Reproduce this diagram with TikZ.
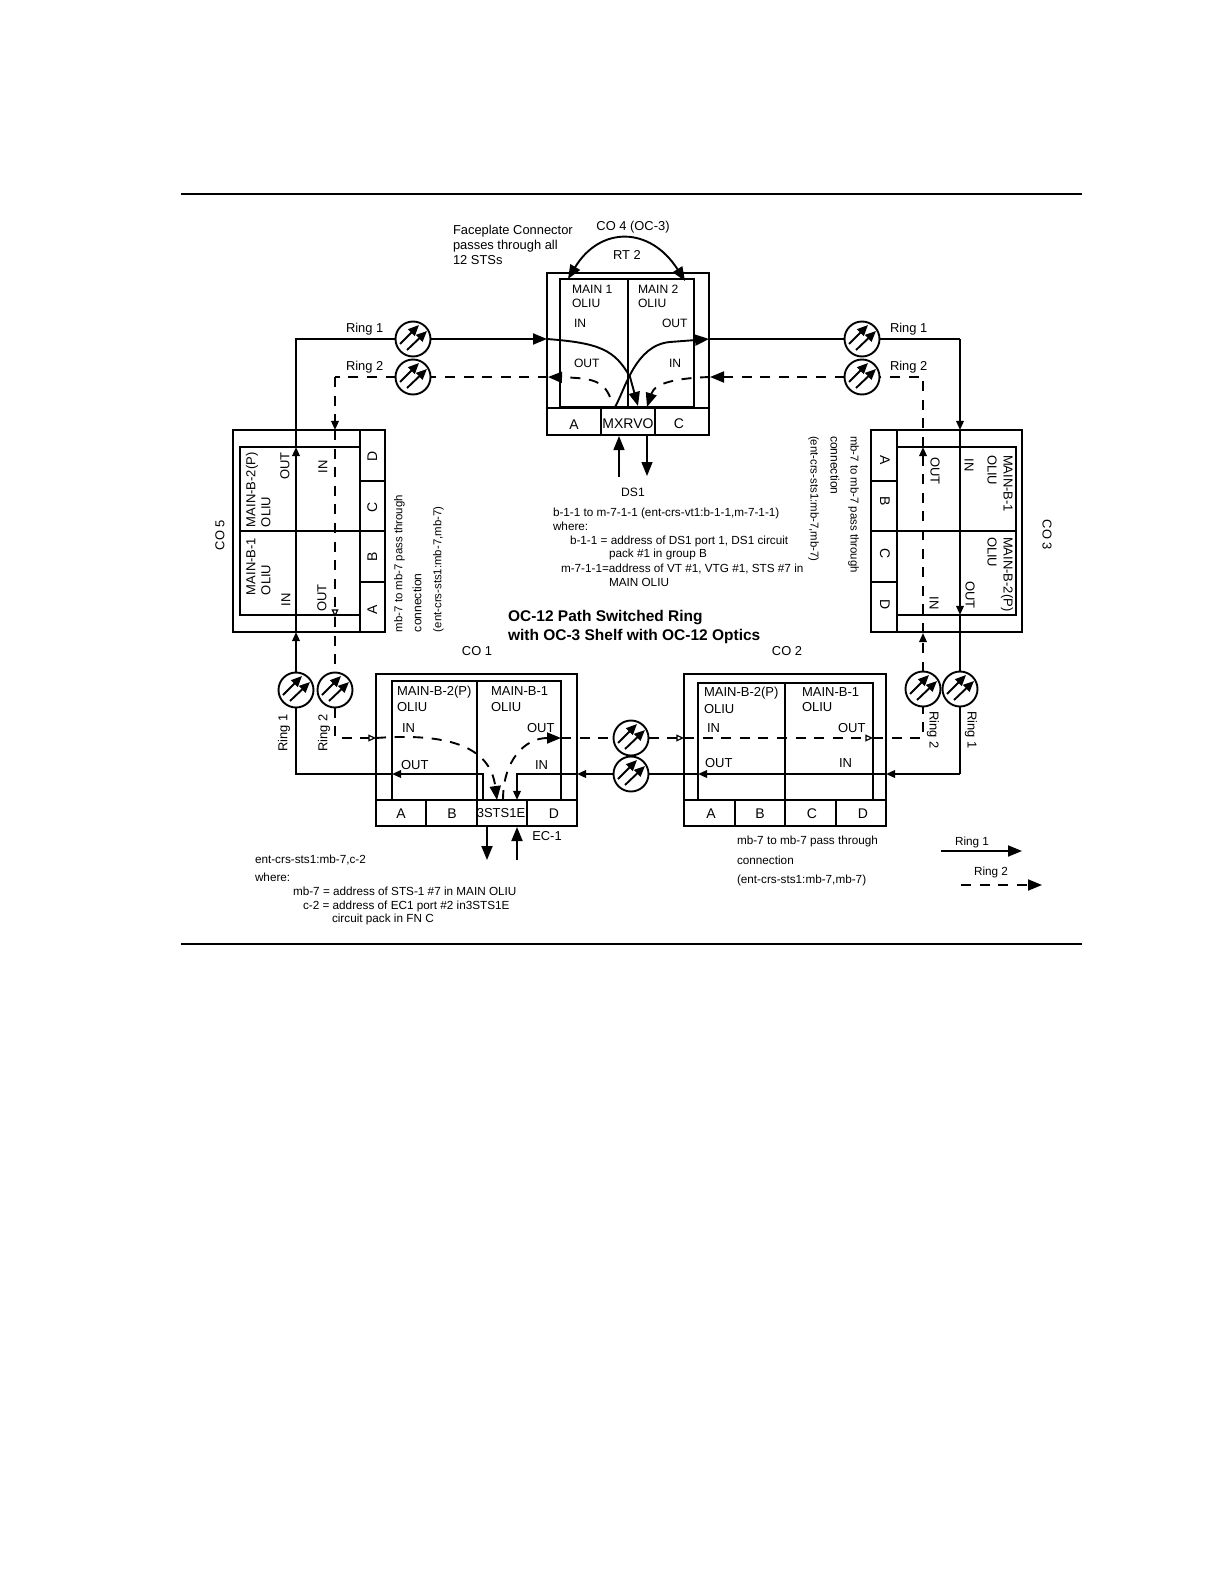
\documentclass[tikz,border=0pt]{standalone}
\usepackage{fontspec}
\setmainfont{Liberation Sans}
\usetikzlibrary{arrows.meta}
\newcounter{tn}
\newcommand\Tw[4][]{\stepcounter{tn}\node[lab,anchor=west,#1] (t\arabic{tn}) at (#2,#3) {#4};}
\newcommand\Tc[4][]{\stepcounter{tn}\node[lab,anchor=center,#1] (t\arabic{tn}) at (#2,#3) {#4};}
\newcommand\Bx[6][boxst]{%
  \pgfmathsetmacro\bw{(#5-#3)*0.5}\pgfmathsetmacro\bh{(#6-#4)*0.5}%
  \pgfmathsetmacro\bcx{(#5+#3)/2}\pgfmathsetmacro\bcy{(#6+#4)/2}%
  \node[#1,minimum width=\bw pt,minimum height=\bh pt] (#2) at (\bcx,\bcy) {};}
\tikzset{
  lab/.style={inner sep=0pt,outer sep=0pt,font=\fontsize{5.87}{7}\selectfont,text height=4.4pt,text depth=0pt},
  mid/.style={font=\fontsize{6.05}{7}\selectfont},
  capn/.style={font=\fontsize{6.45}{7}\selectfont},
  big/.style={font=\fontsize{6.5}{7}\selectfont},
  thinc/.style={font=\fontsize{5.7}{7}\selectfont},
  cell/.style={font=\fontsize{7}{8}\selectfont,text height=5pt},
  ttl/.style={font=\fontsize{7.75}{9}\bfseries\selectfont,text height=5.6pt},
  boxst/.style={draw,line width=1.05pt,inner sep=0pt,outer sep=0pt},
  wire/.style={line width=0.95pt},
  ringtwo/.style={line width=0.95pt,dash pattern=on 5pt off 4.3pt},
  bigtip/.style={-{Triangle[length=7pt,width=5.5pt]}},
  medtip/.style={-{Triangle[length=4.6pt,width=3.8pt]}},
  opentip/.style={-{Triangle[open,fill=white,length=3.8pt,width=3.4pt,line width=0.6pt]}},
  atten/.style={circle,draw,fill=white,line width=0.95pt,minimum size=17.5pt,inner sep=0pt,outer sep=0pt,
    path picture={
      \begin{scope}[shift={(path picture bounding box.center)}]
        \draw[line width=0.95pt,-{Triangle[length=5.4pt,width=4.6pt]}] (-13,5) -- (6,-14);
        \draw[line width=0.95pt,-{Triangle[length=5.4pt,width=4.6pt]}] (-6,11) -- (14,-8);
      \end{scope}}},
  rule/.style={line width=0.9pt}
}
\begin{document}
\begin{tikzpicture}[x=0.5pt,y=-0.5pt]
\useasboundingbox (0,0) rectangle (1224,1584);
\fill[white] (0,0) rectangle (1224,1584);
% page rules
\coordinate (rta) at (181,194); \coordinate (rtb) at (1082,194);
\coordinate (rba) at (181,944); \coordinate (rbb) at (1082,944);
\draw[rule] (rta) -- (rtb);
\draw[rule] (rba) -- (rbb);
% CO 4
\Bx{cofour}{547}{273}{709}{435}
\Bx{cofourm}{560}{279}{628}{407}
\Bx{cofourn}{628}{279}{694}{407}
\Bx{cofoura}{547}{408}{601}{435}
\Bx{cofourb}{601}{408}{655}{435}
\Bx{cofourc}{655}{408}{709}{435}
% CO 5
\Bx{cofive}{233}{430}{385}{632}
\Bx{cofivem}{240}{447}{360}{531}
\Bx{cofiven}{240}{531}{360}{615}
\Bx{cofived}{360}{430}{385}{481}
\Bx{cofivec}{360}{481}{385}{531}
\Bx{cofiveb}{360}{531}{385}{582}
\Bx{cofivea}{360}{582}{385}{632}
% CO 3
\Bx{cothree}{871}{430}{1022}{632}
\Bx{cothreem}{897}{447}{1016}{531}
\Bx{cothreen}{897}{531}{1016}{615}
\Bx{cothreea}{871}{430}{897}{481}
\Bx{cothreeb}{871}{481}{897}{531}
\Bx{cothreec}{871}{531}{897}{582}
\Bx{cothreed}{871}{582}{897}{632}
% CO 1
\Bx{coone}{376}{674}{577}{826}
\Bx{coonem}{392}{681}{477}{800}
\Bx{coonen}{477}{681}{561}{800}
\Bx{coonea}{376}{800}{426}{826}
\Bx{cooneb}{426}{800}{477}{826}
\Bx{coonec}{477}{800}{527}{826}
\Bx{cooned}{527}{800}{577}{826}
% CO 2
\Bx{cotwo}{684}{674}{886}{826}
\Bx{cotwom}{698}{683}{785}{800}
\Bx{cotwon}{785}{683}{873}{800}
\Bx{cotwoa}{684}{800}{735}{826}
\Bx{cotwob}{735}{800}{785}{826}
\Bx{cotwoc}{785}{800}{836}{826}
\Bx{cotwod}{836}{800}{886}{826}
% attenuators
\node[atten] (aa) at (413,339) {};
\node[atten] (ab) at (413,377) {};
\node[atten] (ac) at (862,339) {};
\node[atten] (ad) at (862,377) {};
\node[atten] (ae) at (296,690) {};
\node[atten] (af) at (335,690) {};
\node[atten] (ag) at (631,738) {};
\node[atten] (ah) at (631,774) {};
\node[atten] (ai) at (923,689) {};
\node[atten] (aj) at (960,689) {};
% junction coordinates
\coordinate (fli) at (547,339); \coordinate (flo) at (709,339);
\coordinate (dli) at (548,377); \coordinate (dri) at (710,377);
\coordinate (cnw) at (296,339); \coordinate (cne) at (960,339);
\coordinate (dnw) at (335,377); \coordinate (dne) at (923,377);
\coordinate (fvt) at (296,447); \coordinate (fvb) at (296,632);
\coordinate (gvt) at (335,430); \coordinate (gvb) at (335,617);
\coordinate (hvt) at (960,430); \coordinate (hvb) at (960,615);
\coordinate (ivt) at (923,447); \coordinate (ivb) at (923,633);
\coordinate (csw) at (296,774); \coordinate (cse) at (960,774);
\coordinate (dsw) at (335,738); \coordinate (dse) at (923,738);
\coordinate (oa) at (376,738); \coordinate (ob) at (561,738);
\coordinate (oc) at (684,738); \coordinate (od) at (873,738);
\coordinate (pa) at (392,774); \coordinate (pb) at (483,774); \coordinate (pc) at (483,800);
\coordinate (pd) at (577,774); \coordinate (pe) at (517,774); \coordinate (pf) at (517,800);
\coordinate (pg) at (698,774); \coordinate (ph) at (886,774);
\coordinate (qa) at (497,800); \coordinate (qb) at (503,800);
\coordinate (ua) at (487,826); \coordinate (ub) at (487,860);
\coordinate (uc) at (517,860); \coordinate (ud) at (517,827);
\coordinate (va) at (619,477); \coordinate (vb) at (619,436);
\coordinate (vc) at (647,435); \coordinate (vd) at (647,476);
\coordinate (wa) at (638,406); \coordinate (wb) at (615,407);
\coordinate (wc) at (610,397); \coordinate (wd) at (647,407);
\coordinate (ra) at (568,279); \coordinate (rb) at (685,281);
\coordinate (la) at (941,851); \coordinate (lb) at (1022,851);
\coordinate (lc) at (961,885); \coordinate (ld) at (1042,885);
% ring 1
\draw[wire,bigtip] (aa) -- (fli);
\draw[wire] (fvt) -- (cnw) -- (aa);
\draw[wire,medtip] (fvb) -- (fvt);
\draw[wire,medtip] (ae) -- (fvb);
\draw[wire] (pa) -- (csw) -- (ae);
\draw[wire,medtip] (pc) -- (pb) -- (pa);
\draw[wire,medtip] (ah) -- (pd);
\draw[wire,medtip] (pd) -- (pe) -- (pf);
\draw[wire] (pg) -- (ah);
\draw[wire,medtip] (ph) -- (pg);
\draw[wire,medtip] (cse) -- (ph);
\draw[wire] (aj) -- (cse);
\draw[wire] (hvb) -- (aj);
\draw[wire,medtip] (hvt) -- (hvb);
\draw[wire,medtip] (cne) -- (hvt);
\draw[wire] (ac) -- (cne);
\draw[wire] (flo) -- (ac);
\draw[wire,bigtip] (fli) .. controls (600,343) and (615,350) .. (630,377) -- (wa);
\draw[wire,bigtip] (wb) .. controls (625,390) and (635,345) .. (670,342) -- (flo);
% ring 2
\draw[ringtwo,bigtip] (wc) .. controls (603,380) and (590,378) .. (dli);
\draw[ringtwo] (dli) -- (ab);
\draw[ringtwo] (ab) -- (dnw);
\draw[ringtwo,medtip] (dnw) -- (gvt);
\draw[ringtwo,opentip] (gvt) -- (gvb);
\draw[ringtwo] (gvb) -- (af);
\draw[ringtwo,opentip] (af) -- (dsw) -- (oa);
\draw[ringtwo,bigtip] (oa) .. controls (445,733) and (490,745) .. (qa);
\draw[ringtwo,bigtip] (qb) .. controls (503,760) and (525,738) .. (ob);
\draw[ringtwo] (ob) -- (ag);
\draw[ringtwo,opentip] (ag) -- (oc);
\draw[ringtwo,opentip] (oc) -- (od);
\draw[ringtwo] (od) -- (dse) -- (ai);
\draw[ringtwo,medtip] (ai) -- (ivb);
\draw[ringtwo,medtip] (ivb) -- (ivt);
\draw[ringtwo] (ivt) -- (dne) -- (ad);
\draw[ringtwo,bigtip] (ad) -- (dri);
\draw[ringtwo,bigtip] (dri) .. controls (680,378) and (655,382) .. (wd);
% tributaries
\draw[wire,{Triangle[length=7pt,width=5.5pt]}-{Triangle[length=7pt,width=5.5pt]}] (ra) .. controls (600,226) and (650,226) .. (rb);
\draw[line width=0.7pt,bigtip] (va) -- (vb);
\draw[line width=0.7pt,bigtip] (vc) -- (vd);
\draw[wire,bigtip] (ua) -- (ub);
\draw[wire,bigtip] (uc) -- (ud);
% legend
\draw[wire,bigtip] (la) -- (lb);
\draw[ringtwo,bigtip] (lc) -- (ld);
% CO 4 text
\Tw[capn]{453}{230}{Faceplate Connector}
\Tw[capn]{453}{245}{passes through all}
\Tw[capn]{453}{260}{12 STSs}
\Tc[capn]{633}{226}{CO 4 (OC-3)}
\Tc[capn]{627}{255}{RT 2}
\Tw[mid]{572}{289}{MAIN 1}
\Tw[mid]{572}{303}{OLIU}
\Tw[mid]{638}{289}{MAIN 2}
\Tw[mid]{638}{303}{OLIU}
\Tw[mid]{574}{323}{IN}
\Tw[mid]{662}{323}{OUT}
\Tw[mid]{574}{363}{OUT}
\Tw[mid]{669}{363}{IN}
\Tc[cell]{574}{424}{A}
\Tc[cell]{628}{423}{MXRVO}
\Tc[cell]{679}{423}{C}
\Tc[mid]{633}{492}{DS1}
\Tw[capn]{346}{328}{Ring 1}
\Tw[capn]{346}{366}{Ring 2}
\Tw[capn]{890}{328}{Ring 1}
\Tw[capn]{890}{366}{Ring 2}
% CO 5 text
\Tc[rotate=90,capn]{220}{535}{CO 5}
\Tw[rotate=90,big]{251}{527}{MAIN-B-2(P)}
\Tw[rotate=90,big]{266}{527}{OLIU}
\Tc[rotate=90,big]{285}{466}{OUT}
\Tc[rotate=90,big]{323}{467}{IN}
\Tw[rotate=90,big]{251}{595}{MAIN-B-1}
\Tw[rotate=90,big]{266}{595}{OLIU}
\Tc[rotate=90,big]{286}{600}{IN}
\Tc[rotate=90,big]{322}{598}{OUT}
\Tc[rotate=90,cell]{372}{456}{D}
\Tc[rotate=90,cell]{372}{507}{C}
\Tc[rotate=90,cell]{372}{557}{B}
\Tc[rotate=90,cell]{372}{610}{A}
\Tw[rotate=90,thinc]{398}{632}{mb-7 to mb-7 pass through}
\Tw[rotate=90,mid]{417}{632}{connection}
\Tw[rotate=90,thinc]{437}{632}{(ent-crs-sts1:mb-7,mb-7)}
% CO 3 text
\Tc[rotate=-90,capn]{1047}{535}{CO 3}
\Tw[rotate=-90,big]{1008}{455}{MAIN-B-1}
\Tw[rotate=-90,big]{992}{455}{OLIU}
\Tc[rotate=-90,big]{969}{465}{IN}
\Tc[rotate=-90,big]{935}{471}{OUT}
\Tw[rotate=-90,big]{1008}{537}{MAIN-B-2(P)}
\Tw[rotate=-90,big]{992}{537}{OLIU}
\Tc[rotate=-90,big]{970}{595}{OUT}
\Tc[rotate=-90,big]{934}{603}{IN}
\Tc[rotate=-90,cell]{885}{460}{A}
\Tc[rotate=-90,cell]{885}{501}{B}
\Tc[rotate=-90,cell]{885}{554}{C}
\Tc[rotate=-90,cell]{885}{605}{D}
\Tw[rotate=-90,thinc]{855}{436}{mb-7 to mb-7 pass through}
\Tw[rotate=-90,mid]{835}{436}{connection}
\Tw[rotate=-90,thinc]{815}{436}{(ent-crs-sts1:mb-7,mb-7)}
% centre text
\Tw{553}{512}{b-1-1 to m-7-1-1 (ent-crs-vt1:b-1-1,m-7-1-1)}
\Tw{553}{526}{where:}
\Tw{570}{540}{b-1-1 = address of DS1 port 1, DS1 circuit}
\Tw{609}{553}{pack \#1 in group B}
\Tw{561}{568}{m-7-1-1=address of VT \#1, VTG \#1, STS \#7  in}
\Tw{609}{582}{MAIN OLIU}
\Tw[ttl]{508}{616}{OC-12 Path Switched Ring}
\Tw[ttl]{508}{635}{with OC-3 Shelf with OC-12 Optics}
% CO 1 text
\Tc[capn]{477}{651}{CO 1}
\Tw[big]{397}{691}{MAIN-B-2(P)}
\Tw[big]{397}{707}{OLIU}
\Tw[big]{491}{691}{MAIN-B-1}
\Tw[big]{491}{707}{OLIU}
\Tw[big]{402}{728}{IN}
\Tw[big]{527}{728}{OUT}
\Tw[big]{401}{765}{OUT}
\Tw[big]{535}{765}{IN}
\Tc[cell]{401}{813}{A}
\Tc[cell]{452}{813}{B}
\Tc[big]{501}{813}{3STS1E}
\Tc[cell]{554}{813}{D}
\Tc[capn]{547}{836}{EC-1}
\Tc[rotate=90,capn]{283}{733}{Ring 1}
\Tc[rotate=90,capn]{323}{733}{Ring 2}
\Tw{255}{859}{ent-crs-sts1:mb-7,c-2}
\Tw{255}{877}{where:}
\Tw{293}{891}{mb-7 = address of STS-1 \#7 in MAIN OLIU}
\Tw{303}{905}{c-2 = address of EC1 port \#2 in3STS1E}
\Tw{332}{918}{circuit pack in FN C}
% CO 2 text
\Tc[capn]{787}{651}{CO 2}
\Tw[big]{704}{692}{MAIN-B-2(P)}
\Tw[big]{704}{709}{OLIU}
\Tw[big]{802}{692}{MAIN-B-1}
\Tw[big]{802}{707}{OLIU}
\Tw[big]{707}{728}{IN}
\Tw[big]{838}{728}{OUT}
\Tw[big]{705}{763}{OUT}
\Tw[big]{839}{763}{IN}
\Tc[cell]{711}{813}{A}
\Tc[cell]{760}{813}{B}
\Tc[cell]{812}{813}{C}
\Tc[cell]{863}{813}{D}
\Tc[rotate=-90,capn]{934}{730}{Ring 2}
\Tc[rotate=-90,capn]{972}{730}{Ring 1}
\Tw{737}{840}{mb-7 to mb-7 pass through}
\Tw{737}{860}{connection}
\Tw{737}{879}{(ent-crs-sts1:mb-7,mb-7)}
\Tc{972}{841}{Ring 1}
\Tc{991}{871}{Ring 2}
\end{tikzpicture}
\end{document}
